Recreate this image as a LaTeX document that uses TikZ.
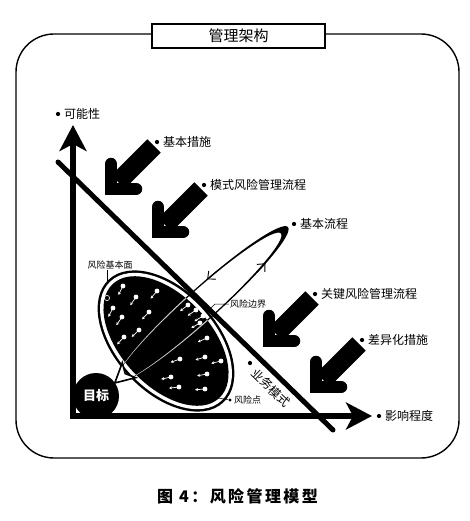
\documentclass[tikz,border=0pt]{standalone}
\usepackage{fontspec}
\setmainfont{Noto Sans CJK SC}
\usetikzlibrary{arrows.meta,calc}

\begin{document}
\begin{tikzpicture}[x=1pt,y=-1pt,
    tag/.style={circle,fill=black,inner sep=1.5pt,
        label={[font=\fontsize{12}{14}\selectfont,inner sep=3.5pt]right:#1}},
    smalltag/.style={circle,fill=black,inner sep=1.2pt,
        label={[font=\fontsize{9}{11}\selectfont,inner sep=2pt]right:#1}},
    axis/.style={line width=6pt,line join=miter,
        {Stealth[length=26pt,width=27pt,inset=7pt]}-{Stealth[length=26pt,width=27pt,inset=7pt]}},
    riskframe/.style={shift={(166,341)},rotate=-47},
    loopframe/.style={shift={(202.5,304)},rotate=42},
    flow/.style={line width=0.9pt,-{Straight Barb[length=6pt,width=11pt]}},
    drift/.style={white,line width=0.7pt,-{Stealth[length=3pt,width=3pt]}}]
\useasboundingbox (0,0) rectangle (469,521);

% frame and title
\draw[line width=1.4pt,rounded corners=38pt] (16,34) rectangle (459,458);
\node[draw,fill=white,line width=1.4pt,minimum width=173pt,minimum height=24pt,
      font=\fontsize{15}{17}\selectfont] (title) at (238.5,36) {管理架构};

% risk surface with its points
\fill[riskframe] (0,0) ellipse [x radius=84,y radius=51];
\fill[riskframe,white] (0,0) ellipse [x radius=81.5,y radius=48.5];
\fill[riskframe] (0,0) ellipse [x radius=78,y radius=45];
\coordinate (aim) at (65,400);
\foreach \x/\y in {123/286,157/291,136/297,113/308,149/312,122/317,139/330,124/337,
                   188/305,196/310,203/316,200/323,207/338,180/359,205/357,221/361,
                   171/377,207/374,179/387,205/389}{
    \draw[drift] (\x,\y) -- ($(\x,\y)!10pt!(aim)$);
    \fill[white] (\x,\y) circle [radius=2.4pt];
}
\draw[white,line width=0.6pt] (107,298) circle [radius=2.6pt];

% goal, axes and business line
\node[circle,fill=black,minimum size=46pt,inner sep=0pt,text=white,
      font=\fontsize{13}{15}\selectfont\bfseries] (goal) at (96,396) {目标};
\coordinate (origin) at (73,416);
\coordinate (ytip) at (73,125);
\coordinate (xtip) at (372,416);
\draw[axis] (ytip) -- (origin) -- (xtip);
\coordinate (dtop) at (58,162);
\coordinate (dbot) at (333,430);
\draw[line width=5pt,line cap=round] (dtop) -- (dbot);

% basic process loop
\fill[loopframe,even odd rule] (0,0) ellipse [x radius=115,y radius=16]
    (-5,0) ellipse [x radius=110.5,y radius=14.8];
\begin{scope}
    \clip[riskframe] (0,0) ellipse [x radius=78,y radius=45];
    \fill[loopframe,gray!45,even odd rule] (0,0) ellipse [x radius=115,y radius=16]
        (-5,0) ellipse [x radius=110.5,y radius=14.8];
\end{scope}
\draw[loopframe,flow] (33,-14.8) -- (20,-15.2);
\draw[loopframe,flow] (61,13) -- (74,11.8);
\draw[loopframe,fill=white,line width=1.6pt,line join=miter]
    (-118,0) -- (-99,-10) -- (-104,0) -- (-99,10) -- cycle;

% measures pushing on the business line
\foreach \x/\y/\txt [count=\i] in {105/195/基本措施,152/238/模式风险管理流程,
                                   263/347/关键风险管理流程,310/393/差异化措施}{
    \draw[line width=19pt] (\x+49,\y-49) -- (\x+13,\y-13);
    \draw[line width=12.5pt,line cap=round,line join=miter]
        (\x+6,\y-31) -- (\x+6,\y-6) -- (\x+31,\y-6);
    \node[tag=\txt] (measure\i) at (\x+52,\y-53) {};
}

% labels
\node[tag=可能性] (likely) at (58,114) {};
\node[tag=影响程度] (impact) at (379,416) {};
\node[tag=基本流程] (basic) at (294,224) {};
\node[circle,fill=black,inner sep=1.5pt] (biz) at (250,363) {};
\node[rotate=-44,inner sep=1pt,font=\fontsize{12}{14}\selectfont]
    (bizlabel) at (271,388) {业务模式};
\node[font=\fontsize{9}{11}\selectfont,inner sep=1pt] (lbase) at (110,265) {风险基本面};
\coordinate (basetick) at (107,282);
\draw[line width=0.5pt] (lbase.south -| basetick) -- (basetick);
\node[anchor=west,font=\fontsize{9}{11}\selectfont,inner sep=1pt] (lbound) at (229,304) {风险边界};
\coordinate (edge) at (209,310);
\draw[line width=0.5pt] (lbound.west) -- ++(-14,0) -- (edge);
\node[smalltag=风险点] (rpoint) at (230,400) {};
\coordinate (pin) at (218,398);
\draw[line width=0.5pt] (pin) -- (rpoint);

% caption
\node[font={\fontsize{16}{18}\selectfont\bfseries\addfontfeatures{LetterSpace=15}}]
    (caption) at (237.5,496) {图 4：风险管理模型};
\end{tikzpicture}
\end{document}
